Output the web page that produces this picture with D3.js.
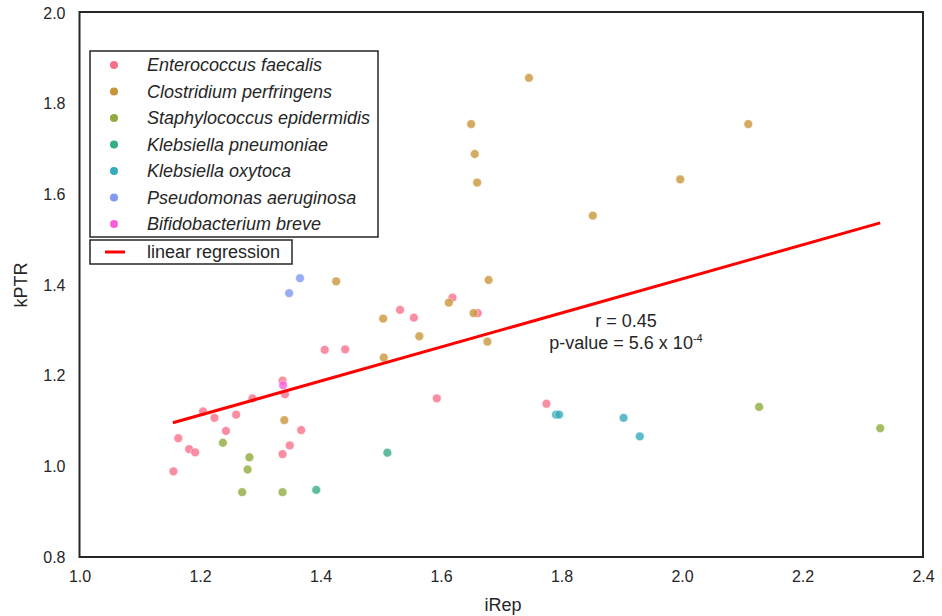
<!DOCTYPE html>
<html>
<head>
<meta charset="utf-8">
<script src="https://cdn.jsdelivr.net/npm/d3@7"></script>
<style>
  body { margin: 0; background: #fff; }
  text { font-family: "Liberation Sans", Arial, Helvetica, sans-serif; fill: #262626; }
</style>
</head>
<body>
<script>
// species, in legend order
var species = ["Enterococcus faecalis", "Clostridium perfringens", "Staphylococcus epidermidis",
               "Klebsiella pneumoniae", "Klebsiella oxytoca", "Pseudomonas aeruginosa", "Bifidobacterium breve"];
var colors = ["#f77189", "#c8963a", "#8eab3c", "#36ad8a", "#36abbb", "#8099f2", "#f561dd"];

// iRep / kPTR per species
var efIrep = [1.156, 1.164, 1.182, 1.192, 1.205, 1.224, 1.243, 1.260, 1.287, 1.341, 1.337, 1.368, 1.349, 1.337, 1.407, 1.441, 1.532, 1.555, 1.593, 1.619, 1.661, 1.775];
var efKptr = [0.989, 1.062, 1.038, 1.031, 1.121, 1.107, 1.078, 1.114, 1.150, 1.159, 1.189, 1.080, 1.046, 1.027, 1.257, 1.258, 1.345, 1.328, 1.150, 1.372, 1.338, 1.138];
var cpIrep = [1.746, 1.650, 1.656, 1.660, 1.997, 1.852, 2.110, 1.679, 1.613, 1.654, 1.504, 1.564, 1.677, 1.426, 1.505, 1.340];
var cpKptr = [1.857, 1.755, 1.689, 1.626, 1.633, 1.553, 1.755, 1.411, 1.361, 1.338, 1.326, 1.287, 1.275, 1.408, 1.240, 1.102];
var seIrep = [1.238, 1.282, 1.279, 1.270, 1.337, 2.128, 2.329];
var seKptr = [1.052, 1.020, 0.993, 0.943, 0.943, 1.131, 1.084];
var kpIrep = [1.393, 1.511];
var kpKptr = [0.948, 1.030];
var koIrep = [1.791, 1.796, 1.903, 1.930];
var koKptr = [1.114, 1.114, 1.107, 1.066];
var paIrep = [1.366, 1.348];
var paKptr = [1.415, 1.382];
var bbIrep = [1.338];
var bbKptr = [1.179];

var irepBySpecies = [efIrep, cpIrep, seIrep, kpIrep, koIrep, paIrep, bbIrep];
var kptrBySpecies = [efKptr, cpKptr, seKptr, kpKptr, koKptr, paKptr, bbKptr];

// regression line end points
var regIrep = [1.155, 2.329];
var regKptr = [1.096, 1.537];

var xTicks = [1.0, 1.2, 1.4, 1.6, 1.8, 2.0, 2.2, 2.4];
var yTicks = [0.8, 1.0, 1.2, 1.4, 1.6, 1.8, 2.0];

var width = 942, height = 616;
var plotL = 79.5, plotR = 923, plotT = 13, plotB = 557;

var x = d3.scaleLinear().domain([1.0, 2.4]).range([plotL, plotR]);
var y = d3.scaleLinear().domain([0.8, 2.0]).range([plotB, plotT]);

var svg = d3.select("body").append("svg")
    .attr("width", width)
    .attr("height", height);

// tick labels (no tick marks, seaborn white style)
svg.append("g")
    .attr("transform", "translate(0," + plotB + ")")
    .call(d3.axisBottom(x).tickValues(xTicks).tickFormat(d3.format(".1f")).tickSize(0).tickPadding(14))
    .call(g => g.select(".domain").remove())
    .selectAll("text").style("font-size", "16px").attr("fill", "#262626");

svg.append("g")
    .attr("transform", "translate(" + plotL + ",0)")
    .call(d3.axisLeft(y).tickValues(yTicks).tickFormat(d3.format(".1f")).tickSize(0).tickPadding(14))
    .call(g => g.select(".domain").remove())
    .selectAll("text").style("font-size", "16px").attr("fill", "#262626");

// axis titles
svg.append("text")
    .attr("x", 503).attr("y", 611)
    .attr("text-anchor", "middle")
    .style("font-size", "18px")
    .text("iRep");

svg.append("text")
    .attr("transform", "translate(27,285) rotate(-90)")
    .attr("text-anchor", "middle")
    .style("font-size", "18px")
    .text("kPTR");

// scatter points
species.forEach(function (s, i) {
    var pts = irepBySpecies[i].map((v, j) => [v, kptrBySpecies[i][j]]);
    svg.append("g")
        .selectAll("circle")
        .data(pts)
        .enter()
        .append("circle")
        .attr("cx", d => x(d[0]))
        .attr("cy", d => y(d[1]))
        .attr("r", 4.4)
        .attr("fill", colors[i])
        .attr("fill-opacity", 0.8)
        .attr("stroke", "#fff")
        .attr("stroke-width", 0.5);
});

// regression line
svg.append("line")
    .attr("x1", x(regIrep[0])).attr("y1", y(regKptr[0]))
    .attr("x2", x(regIrep[1])).attr("y2", y(regKptr[1]))
    .attr("stroke", "red")
    .attr("stroke-width", 3);

// annotation
svg.append("text")
    .attr("x", 626).attr("y", 327)
    .attr("text-anchor", "middle")
    .style("font-size", "18px")
    .text("r = 0.45");

var pv = svg.append("text")
    .attr("x", 626).attr("y", 349)
    .attr("text-anchor", "middle")
    .style("font-size", "18px");
pv.append("tspan").text("p-value = 5.6 x 10");
pv.append("tspan").attr("dy", -7).style("font-size", "11px").text("-4");

// frame
svg.append("rect")
    .attr("x", plotL).attr("y", plotT - 1)
    .attr("width", plotR - plotL).attr("height", plotB - plotT + 1)
    .attr("fill", "none")
    .attr("stroke", "#262626")
    .attr("stroke-width", 2);

// species legend
var legend = svg.append("g");
legend.append("rect")
    .attr("x", 90).attr("y", 51)
    .attr("width", 288).attr("height", 186)
    .attr("fill", "#fff")
    .attr("stroke", "#262626")
    .attr("stroke-width", 1.5);

species.forEach(function (s, i) {
    var ry = 65 + i * 26.5;
    legend.append("circle")
        .attr("cx", 114).attr("cy", ry)
        .attr("r", 4)
        .attr("fill", colors[i]);
    legend.append("text")
        .attr("x", 147).attr("y", ry + 6)
        .style("font-size", "18px")
        .style("font-style", "italic")
        .text(s);
});

// regression legend
var legend2 = svg.append("g");
legend2.append("rect")
    .attr("x", 90).attr("y", 240)
    .attr("width", 202).attr("height", 24)
    .attr("fill", "#fff")
    .attr("stroke", "#262626")
    .attr("stroke-width", 1.5);
legend2.append("line")
    .attr("x1", 105).attr("x2", 125)
    .attr("y1", 252).attr("y2", 252)
    .attr("stroke", "red")
    .attr("stroke-width", 3);
legend2.append("text")
    .attr("x", 147).attr("y", 258)
    .style("font-size", "18px")
    .text("linear regression");
</script>
</body>
</html>
